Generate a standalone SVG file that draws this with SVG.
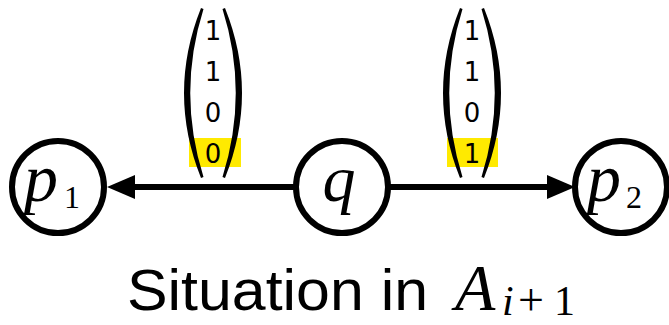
<svg xmlns="http://www.w3.org/2000/svg" width="669" height="325" viewBox="0 0 669 325">
<style>
.node{fill:#fff;stroke:#000;stroke-width:6}
.math{font-family:"Liberation Serif","DejaVu Serif",serif;font-style:italic;fill:#000}
.rm{font-family:"Liberation Serif","DejaVu Serif",serif;fill:#000}
.edge{stroke:#000;stroke-width:6;fill:none}
.dig{font-family:"DejaVu Sans","Liberation Sans",sans-serif;font-size:26px;text-anchor:middle;fill:#000}
.hl{fill:#ffea00}
.title{font-family:"Liberation Sans","DejaVu Sans",sans-serif;font-size:58px;fill:#000}
</style>
<defs>
<marker id="arr" markerUnits="userSpaceOnUse" markerWidth="28" markerHeight="24" refX="10" refY="12" orient="auto">
<path d="M0,0 L28,12 L0,24 Z" fill="#000"/>
</marker>
<g id="paren">
<path d="M201,8 Q167,93 201,178 L203.5,177 Q177,93 203.5,9 Z" fill="#000"/>
<path d="M225,8 Q259,93 225,178 L222.5,177 Q249,93 222.5,9 Z" fill="#000"/>
</g>
</defs>
<g id="connectors">
<line class="edge" x1="296" y1="187" x2="125" y2="187" marker-end="url(#arr)"/>
<line class="edge" x1="388" y1="187" x2="557" y2="187" marker-end="url(#arr)"/>
</g>
<g id="label-left">
<rect class="hl" x="189" y="138" width="52" height="29"/>
<use href="#paren"/>
<text class="dig" x="213" y="40">1</text>
<text class="dig" x="213" y="81">1</text>
<text class="dig" x="213" y="122">0</text>
<text class="dig" x="213" y="163">0</text>
</g>
<g id="label-right">
<rect class="hl" x="447" y="138" width="51" height="29"/>
<use href="#paren" transform="translate(259,0)"/>
<text class="dig" x="472" y="40">1</text>
<text class="dig" x="472" y="81">1</text>
<text class="dig" x="472" y="122">0</text>
<text class="dig" x="472" y="163">1</text>
</g>
<g id="p1">
<circle class="node" cx="58" cy="187" r="46"/>
<text class="math" x="24" y="201" font-size="68">p</text>
<text class="rm" x="64" y="208" font-size="32">1</text>
</g>
<g id="q">
<circle class="node" cx="342" cy="187" r="46"/>
<text class="math" x="339" y="201" font-size="66" text-anchor="middle">q</text>
</g>
<g id="p2">
<circle class="node" cx="621" cy="187" r="46"/>
<text class="math" x="587" y="201" font-size="68">p</text>
<text class="rm" x="626" y="208" font-size="32">2</text>
</g>
<g id="title">
<text class="title" x="127" y="310" textLength="301" lengthAdjust="spacingAndGlyphs">Situation in</text>
<text class="math" x="455" y="310" font-size="66">A</text>
<text class="math" x="502" y="315" font-size="42">i</text>
<text class="rm" x="518" y="315" font-size="46">+</text>
<text class="rm" x="554" y="315" font-size="42">1</text>
</g>
</svg>
